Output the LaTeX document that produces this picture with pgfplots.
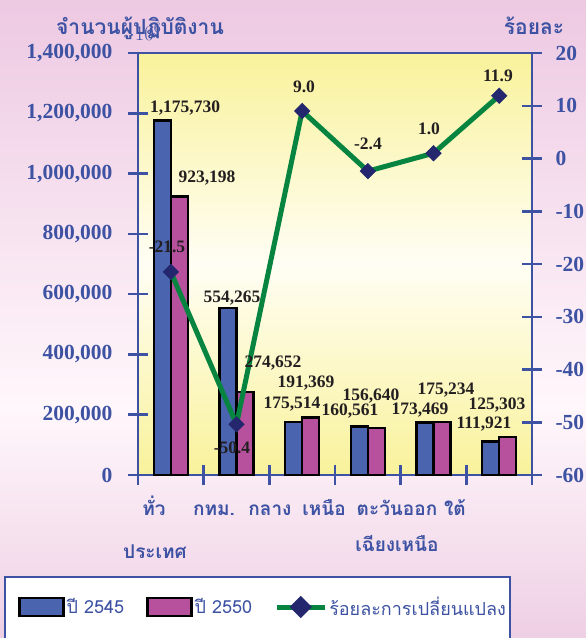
\documentclass[border=0pt]{standalone}
\usepackage{pgfplots}
\pgfplotsset{compat=1.18}
\usepackage{fontspec}
\setmainfont{Liberation Serif}
\newfontfamily\thaifont[Script=Thai]{Loma}

\definecolor{axisblue}{HTML}{3D52A3}
\definecolor{barblue}{HTML}{4A64B0}
\definecolor{barmag}{HTML}{B8519D}
\definecolor{linegreen}{HTML}{078540}
\definecolor{marknavy}{HTML}{24276E}
\definecolor{labelblack}{HTML}{231F20}
\definecolor{bgpink}{HTML}{EDC9E2}
\definecolor{bgpinklow}{HTML}{EECFE4}
\definecolor{bgpale}{HTML}{FFF7FB}
\definecolor{plotyel}{HTML}{F9F29B}
\definecolor{plotpale}{HTML}{FFFEF4}

\pgfdeclareverticalshading{bgshade}{100bp}{color(0bp)=(bgpinklow); color(25bp)=(bgpinklow); color(43bp)=(bgpale); color(75bp)=(bgpink); color(100bp)=(bgpink)}
\pgfdeclareverticalshading{plotshade}{100bp}{color(0bp)=(plotyel); color(25bp)=(plotyel); color(50bp)=(plotpale); color(75bp)=(plotyel); color(100bp)=(plotyel)}

\pgfplotsset{
  twinaxis/.style={
    at={(138pt,163pt)}, anchor=south west,
    scale only axis, width=394pt, height=422pt,
    xmin=-0.5, xmax=5.5, clip=false,
    axis line style={axisblue, line width=2.5pt},
    tick style={axisblue, line width=2.5pt},
    tick align=center,
    major tick length=20pt,
    yticklabel style={font=\fontsize{21.5}{22}\selectfont\bfseries, text=axisblue},
  }
}

\begin{document}
\begin{tikzpicture}[x=1pt,y=1pt]
\useasboundingbox (0,0) rectangle (586,638);
\clip (0,0) rectangle (586,638);
\shade[shading=bgshade] (0,0) rectangle (586,638);
\draw[axisblue, line width=2pt, fill=white] (5,61) rectangle (510,-20);

% left axis: number of workers
\begin{axis}[twinaxis,
  ymin=0, ymax=1400000,
  axis background/.style={shading=plotshade},
  xtick={-0.5,0.5,1.5,2.5,3.5,4.5,5.5},
  xticklabels={},
  xtick pos=bottom, ytick pos=left,
  ytick={0,200000,400000,600000,800000,1000000,1200000,1400000},
  yticklabels={0,{200,000},{400,000},{600,000},{800,000},{1,000,000},{1,200,000},{1,400,000}},
  yticklabel style={xshift=-12pt},
  bar width=0.26,
]
\addplot[ybar, bar shift=-0.13, fill=barblue, draw=black, line width=2.5pt]
  coordinates {(0,1175730) (1,554265) (2,175514) (3,160561) (4,173469) (5,111921)};
\addplot[ybar, bar shift=0.13, fill=barmag, draw=black, line width=2.5pt]
  coordinates {(0,923198) (1,274652) (2,191369) (3,156640) (4,175234) (5,125303)};
\end{axis}

% right axis: percent change
\begin{axis}[twinaxis,
  ymin=-60, ymax=20,
  axis x line=none, axis y line*=right,
  ytick={-60,-50,-40,-30,-20,-10,0,10,20},
  yticklabels={-60,-50,-40,-30,-20,-10,0,10,20},
  yticklabel style={xshift=10pt},
  legend columns=3,
  legend style={at={(-0.3046,-0.3128)}, anchor=west, draw=none, fill=none,
    inner sep=0pt, font=\thaifont\fontsize{18}{18}\selectfont,
    nodes={text=axisblue},
    /tikz/every even column/.append style={column sep=20pt}},
]
\addlegendimage{legend image code/.code={\draw[fill=barblue, draw=black, line width=2.5pt] (0pt,-9pt) rectangle (44pt,9pt);}}
\addlegendentry{ปี 2545}
\addlegendimage{legend image code/.code={\draw[fill=barmag, draw=black, line width=2.5pt] (0pt,-9pt) rectangle (44pt,9pt);}}
\addlegendentry{ปี 2550}
\addplot[linegreen, line width=5pt, mark=square*, mark size=5.5pt,
  mark options={fill=marknavy, draw=marknavy, line width=0.5pt, rotate=45, solid},
  legend image code/.code={\draw[linegreen, line width=5pt] (0pt,0pt)--(48pt,0pt);
    \fill[marknavy] (24pt,7.5pt)--(31.5pt,0pt)--(24pt,-7.5pt)--(16.5pt,0pt)--cycle;}]
  coordinates {(0,-21.5) (1,-50.4) (2,9.0) (3,-2.4) (4,1.0) (5,11.9)};
\addlegendentry{ร้อยละการเปลี่ยนแปลง}
\end{axis}

% value labels
\begin{scope}[every node/.style={anchor=base, inner sep=0pt, text=labelblack,
    font=\fontsize{17.5}{18}\selectfont\bfseries}]
\node at (185,525) {1,175,730};
\node at (207,455) {923,198};
\node at (232,335) {554,265};
\node at (273,270) {274,652};
\node at (306,250) {191,369};
\node at (292,229) {175,514};
\node at (350,222) {160,561};
\node at (371,237) {156,640};
\node at (420,223) {173,469};
\node at (446,243) {175,234};
\node at (484,209) {111,921};
\node at (497,228) {125,303};
\node at (167,385) {-21.5};
\node at (232,184) {-50.4};
\node at (304,545) {9.0};
\node at (368,488) {-2.4};
\node at (429,503) {1.0};
\node at (498,556) {11.9};
\end{scope}

% titles and category names
\begin{scope}[every node/.style={anchor=base, inner sep=0pt, text=axisblue,
    font=\thaifont\bfseries\fontsize{19}{19}\selectfont}]
\node[font=\thaifont\bfseries\fontsize{21}{21}\selectfont] at (140,603) {จำนวนผู้ปฏิบัติงาน};
\node[font=\thaifont\bfseries\fontsize{21}{21}\selectfont] at (534,603) {ร้อยละ};
\node at (154,122) {ทั่ว};
\node at (155,79) {ประเทศ};
\node at (214,122) {กทม.};
\node at (270,122) {กลาง};
\node at (324,122) {เหนือ};
\node at (397,122) {ตะวันออก};
\node at (397,86) {เฉียงเหนือ};
\node at (455,122) {ใต้};
\end{scope}
\end{tikzpicture}
\end{document}
